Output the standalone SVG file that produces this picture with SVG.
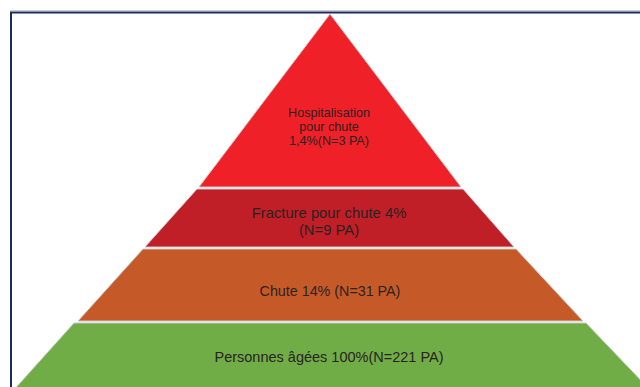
<svg xmlns="http://www.w3.org/2000/svg" width="640" height="387" viewBox="0 0 640 387">
<style>
.lv{stroke:#c8c8c8;stroke-width:1}
.t{font-family:"Liberation Sans",Arial,sans-serif;fill:#2a2222;text-anchor:middle}
</style>
<rect width="640" height="387" fill="#ffffff"/>
<g id="frame">
<line x1="10" y1="10.5" x2="640" y2="10.5" stroke="#c9ccd6" stroke-width="1"/>
<path d="M11,387 V12.5 H640" fill="none" stroke="#1f2a5c" stroke-width="2"/>
</g>
<g id="level4">
<polygon class="lv" points="74,323 586,323 652,392 12,392" fill="#70ad47"/>
<text class="t" x="329" y="362" font-size="14.5">Personnes âgées 100%(N=221 PA)</text>
</g>
<g id="level3">
<polygon class="lv" points="143,249 516,249 583,321 78,321" fill="#c55a28"/>
<text class="t" x="330" y="296" font-size="14.3">Chute 14% (N=31 PA)</text>
</g>
<g id="level2">
<polygon class="lv" points="197,189 463,189 514,247 145,247" fill="#c01f27"/>
<text class="t" x="329" y="218" font-size="14.8">Fracture pour chute 4%</text>
<text class="t" x="329" y="235" font-size="14.8">(N=9 PA)</text>
</g>
<g id="level1">
<polygon class="lv" points="330,14 461,187 199,187" fill="#ef2027"/>
<text class="t" x="329" y="117" font-size="12.6">Hospitalisation</text>
<text class="t" x="329" y="131" font-size="12.6">pour chute</text>
<text class="t" x="329" y="145" font-size="12.6">1,4%(N=3 PA)</text>
</g>
<g id="connectors"/>
</svg>
